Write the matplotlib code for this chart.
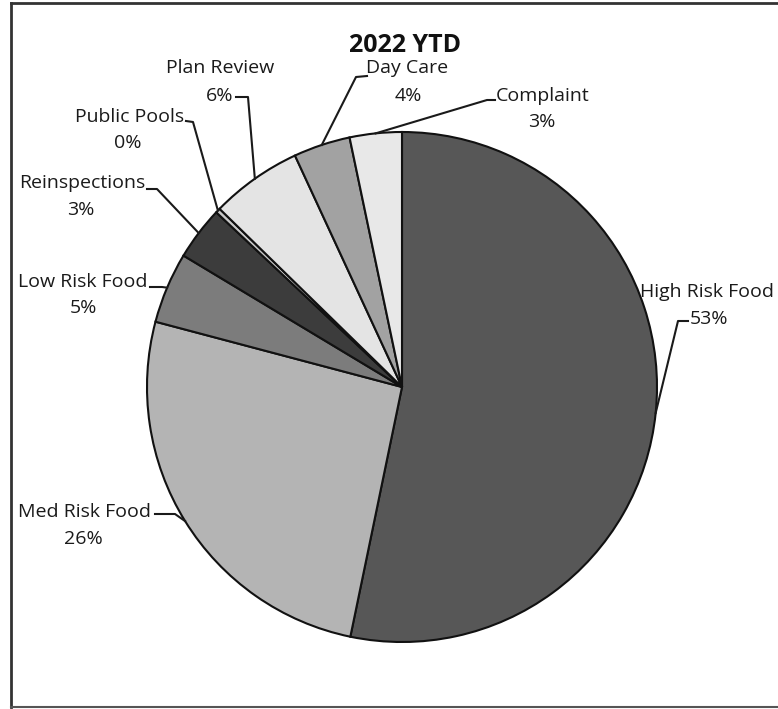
import numpy as np
import matplotlib
matplotlib.use("Agg")
import matplotlib.pyplot as plt
from matplotlib.lines import Line2D

title = "2022 YTD"
categories = ["High Risk Food", "Med Risk Food", "Low Risk Food", "Reinspections",
              "Public Pools", "Plan Review", "Day Care", "Complaint"]
values = [53.3, 25.9, 4.5, 3.4, 0.3, 5.8, 3.6, 3.3]
pct_labels = ["53%", "26%", "5%", "3%", "0%", "6%", "4%", "3%"]
colors = ["#575757", "#b4b4b4", "#7c7c7c", "#3c3c3c", "#c8c8c8", "#e4e4e4", "#a2a2a2", "#e8e8e8"]

W, H = 778, 709
fig = plt.figure(figsize=(W / 100, H / 100), dpi=100)
ax = fig.add_axes([0, 0, 1, 1])

cx, cy, R = 402, H - 387, 255
wedges, _ = ax.pie(values, colors=colors, startangle=90, counterclock=False,
                   center=(cx, cy), radius=R,
                   wedgeprops=dict(edgecolor="#111111", linewidth=1.5))
ax.set_xlim(0, W)
ax.set_ylim(0, H)
ax.set_aspect("equal")
ax.axis("off")

font = ["Open Sans", "DejaVu Sans"]
fs = 14

# label layout in image px: name center, pct center, leader start, leader elbow
layout = {
    "High Risk Food": (707, 292, 709, 319, (688, 321), (678, 321)),
    "Med Risk Food": (85, 512, 83, 539, (155, 514), (175, 514)),
    "Low Risk Food": (83, 282, 83, 308, (150, 287), (162, 287)),
    "Reinspections": (82, 183, 81, 210, (147, 189), (157, 189)),
    "Public Pools": (130, 117, 128, 143, (186, 121), (193, 122)),
    "Plan Review": (220, 68, 220, 96, (236, 97), (248, 97)),
    "Day Care": (407, 68, 408, 96, (367, 76), (356, 77)),
    "Complaint": (543, 96, 542, 122, (495, 100), (487, 100)),
}

for w, name, pct in zip(wedges, categories, pct_labels):
    nx, ny, px, py, p0, p1 = layout[name]
    ax.text(nx, H - ny, name, ha="center", va="center", fontsize=fs, family=font, color="#1a1a1a")
    ax.text(px, H - py, pct, ha="center", va="center", fontsize=fs, family=font, color="#1a1a1a")
    ang = np.deg2rad((w.theta1 + w.theta2) / 2)
    ex, ey = cx + R * np.cos(ang), cy + R * np.sin(ang)
    ax.add_line(Line2D([p0[0], p1[0], ex], [H - p0[1], H - p1[1], ey],
                       color="#1a1a1a", linewidth=1.5))

ax.text(405, H - 46, title, ha="center", va="center", fontsize=18, fontweight="bold",
        family=font, color="#111111")

# outer frame
ax.add_line(Line2D([11, W], [H - 3, H - 3], color="#333333", linewidth=2))
ax.add_line(Line2D([11, 11], [H - 3, H - 707], color="#333333", linewidth=2))
ax.add_line(Line2D([11, W], [H - 707, H - 707], color="#555555", linewidth=1.5))

fig.savefig("out.png", dpi=100)
